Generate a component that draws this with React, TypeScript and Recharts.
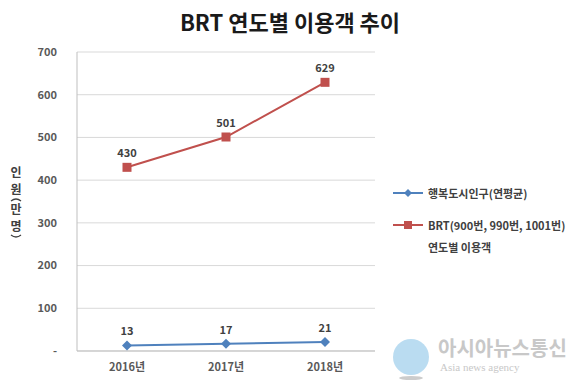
import { LineChart, Line, XAxis, YAxis, CartesianGrid, LabelList, Customized } from 'recharts'

const years = ['2016년', '2017년', '2018년']
const population = [13, 17, 21]
const brtRiders = [430, 501, 629]
const yTicks = [0, 100, 200, 300, 400, 500, 600, 700]

const BLUE = '#4f81bd'
const RED = '#c0504d'
const FONT = '"Noto Sans CJK KR", "Noto Sans", sans-serif'

const data = years.map((y, i) => ({ year: y, pop: population[i], brt: brtRiders[i] }))

function Diamond(props: any) {
  const { cx, cy } = props
  if (cx == null || cy == null) return null
  return <path d={`M${cx},${cy - 5}L${cx + 5},${cy}L${cx},${cy + 5}L${cx - 5},${cy}Z`} fill={BLUE} />
}

function Square(props: any) {
  const { cx, cy } = props
  if (cx == null || cy == null) return null
  return <rect x={cx - 4.5} y={cy - 4.5} width={9} height={9} fill={RED} />
}

function LegendBox() {
  return (
    <div style={{ fontFamily: FONT, fontSize: 11, color: '#404040', fontWeight: 700, lineHeight: '22px' }}>
      <div style={{ display: 'flex', alignItems: 'center' }}>
        <svg width={30} height={10} style={{ marginRight: 5 }}>
          <line x1={0} y1={5} x2={30} y2={5} stroke={BLUE} strokeWidth={2} />
          <path d="M15,1L19,5L15,9L11,5Z" fill={BLUE} />
        </svg>
        행복도시인구(연평균)
      </div>
      <div style={{ display: 'flex', alignItems: 'center', marginTop: 10 }}>
        <svg width={30} height={10} style={{ marginRight: 5 }}>
          <line x1={0} y1={5} x2={30} y2={5} stroke={RED} strokeWidth={2} />
          <rect x={11} y={1} width={8} height={8} fill={RED} />
        </svg>
        BRT(900번, 990번, 1001번)
      </div>
      <div style={{ paddingLeft: 35 }}>연도별 이용객</div>
    </div>
  )
}

function YLabel() {
  const chars = ['인', '원', '만', '명']
  const ys = [177, 194, 214, 231]
  return (
    <g fontFamily={FONT} fontWeight={700} fill="#404040">
      {chars.map((c, i) => (
        <text key={i} x={16} y={ys[i]} textAnchor="middle" fontSize={12}>{c}</text>
      ))}
      <path d="M11,201 Q16,197 21,201" stroke="#404040" strokeWidth={1.3} fill="none" />
      <path d="M11,235 Q16,239 21,235" stroke="#404040" strokeWidth={1.3} fill="none" />
    </g>
  )
}

export default function App() {
  return (
    <div style={{ position: 'absolute', left: 0, top: 0, width: 580, height: 387, background: '#fff' }}>
      <div style={{ position: 'absolute', left: 0, top: 5, width: 580, textAlign: 'center', fontFamily: FONT, fontWeight: 700, fontSize: 22, color: '#1a1a1a' }}>
        BRT 연도별 이용객 추이
      </div>
      <LineChart width={580} height={387} data={data} margin={{ top: 52, right: 205, bottom: 0, left: 0 }}
        style={{ position: 'absolute', left: 0, top: 0 }}>
        <CartesianGrid vertical={false} stroke="#d9d9d9" />
        <XAxis dataKey="year" height={36} tickLine={false} axisLine={{ stroke: '#bfbfbf' }} padding={{ left: 50, right: 50 }}
          tick={{ fontFamily: FONT, fontSize: 11, fontWeight: 700, fill: '#595959' }} tickMargin={6} />
        <YAxis domain={[0, 700]} ticks={yTicks} width={77} tickLine={false} axisLine={{ stroke: '#bfbfbf' }}
          tickFormatter={(v: number) => (v === 0 ? '-' : String(v))}
          tick={{ fontFamily: FONT, fontSize: 11, fontWeight: 700, fill: '#595959' }} tickMargin={14} />
        <Line dataKey="pop" stroke={BLUE} strokeWidth={2} dot={<Diamond />} isAnimationActive={false}>
          <LabelList dataKey="pop" position="top" offset={10} style={{ fontFamily: FONT, fontSize: 11, fontWeight: 700, fill: '#404040' }} />
        </Line>
        <Line dataKey="brt" stroke={RED} strokeWidth={2} dot={<Square />} isAnimationActive={false}>
          <LabelList dataKey="brt" position="top" offset={10} style={{ fontFamily: FONT, fontSize: 11, fontWeight: 700, fill: '#404040' }} />
        </Line>
        <Customized component={YLabel} />
      </LineChart>
      <div style={{ position: 'absolute', left: 393, top: 182, width: 185 }}>
        <LegendBox />
      </div>
      <div style={{ position: 'absolute', left: 390, top: 336, width: 188, height: 46 }}>
        <svg width={42} height={46} style={{ position: 'absolute', left: 0, top: 0 }}>
          <circle cx={21} cy={21} r={18} fill="#a9d3ee" opacity={0.8} />
          <ellipse cx={21} cy={42} rx={12} ry={2} fill="#ccc" />
        </svg>
        <div style={{ position: 'absolute', left: 48, top: 0, fontFamily: FONT, fontSize: 20, fontWeight: 700, color: '#c8c8c8', lineHeight: '24px', whiteSpace: 'nowrap' }}>
          아시아뉴스통신
        </div>
        <div style={{ position: 'absolute', left: 50, top: 24, fontFamily: '"Liberation Serif", serif', fontSize: 11, color: '#c8c8c8', lineHeight: '14px', whiteSpace: 'nowrap' }}>
          Asia news agency
        </div>
      </div>
    </div>
  )
}
